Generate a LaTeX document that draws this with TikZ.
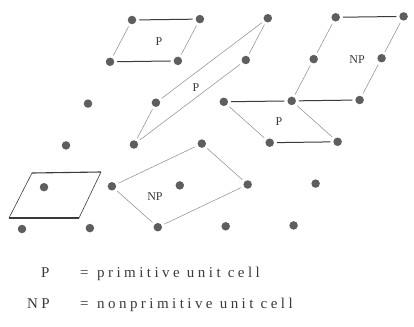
\documentclass[tikz,border=0pt]{standalone}
\usepackage{fontspec}
\setmainfont{Liberation Serif}
\newfontfamily\legendfont[LetterSpace=23]{Liberation Serif}
\definecolor{dotgray}{HTML}{5E5E5E}
\definecolor{linedark}{HTML}{3A3A3A}
\definecolor{linelight}{HTML}{8A8A8A}
\begin{document}
\begin{tikzpicture}[x=1pt,y=-1pt,
  dot/.style={circle,fill=dotgray,inner sep=0pt,minimum size=8.5pt,outer sep=3pt},
  hedge/.style={draw=linedark,line width=1pt},
  sedge/.style={draw=linelight,line width=0.5pt},
  boxedge/.style={draw=linedark,line width=1.1pt},
  boxside/.style={draw=linedark,line width=0.6pt},
  cell/.style={font=\fontsize{12}{14}\selectfont,text=linedark},
  legend/.style={anchor=base west,inner sep=0pt,font=\legendfont\fontsize{15}{18}\selectfont,text=linedark}]
\useasboundingbox (0,0) rectangle (414,326);
\foreach \i in {0,...,4}{
  \foreach \j in {0,...,5}{
    \node[dot] (d-\i-\j) at ({132+67.9*\i-22*\j},{20-0.9*\i+41.8*\j}) {};
  }
}
% top-left P
\draw[hedge] (d-0-0) -- (d-1-0);
\draw[hedge] (d-0-1) -- (d-1-1);
\draw[sedge] (d-0-0) -- (d-0-1);
\draw[sedge] (d-1-0) -- (d-1-1);
\node[cell] (p1) at (159,42) {P};
% long P
\draw[sedge] (d-2-0) -- (d-2-1);
\draw[sedge] (d-2-1) -- (d-1-3);
\draw[sedge] (d-1-3) -- (d-1-2);
\draw[sedge] (d-1-2) -- (d-2-0);
\node[cell] (p2) at (196,88) {P};
% top-right NP
\draw[hedge] (d-3-0) -- (d-4-0);
\draw[sedge] (d-4-0) -- (d-4-1);
\draw[sedge] (d-4-1) -- (d-4-2);
\draw[sedge] (d-3-0) -- (d-3-1);
\draw[sedge] (d-3-1) -- (d-3-2);
\draw[hedge] (d-3-2) -- (d-4-2);
\node[cell] (np1) at (357,60) {NP};
% middle P
\draw[hedge] (d-2-2) -- (d-3-2);
\draw[sedge] (d-2-2) -- (d-3-3);
\draw[sedge] (d-3-2) -- (d-4-3);
\draw[hedge] (d-3-3) -- (d-4-3);
\node[cell] (p3) at (279,122) {P};
% lower NP
\draw[sedge] (d-1-4) -- (d-2-3);
\draw[sedge] (d-2-3) -- (d-3-4);
\draw[sedge] (d-3-4) -- (d-2-5);
\draw[sedge] (d-2-5) -- (d-1-4);
\node[cell] (np2) at (155,197) {NP};
% bottom-left cell
\coordinate (c1) at (32,173);
\coordinate (c2) at (101,172);
\coordinate (c3) at (79,218);
\coordinate (c4) at (9,218);
\draw[boxedge] (c1) -- (c2);
\draw[boxedge] (c4) -- (c3);
\draw[boxside] (c2) -- (c3);
\draw[boxside] (c4) -- (c1);
% legend
\node[legend] (l1a) at (41,277) {P};
\node[legend] (l1b) at (80,277) {=};
\node[legend] (l1c) at (97,277) {primitive unit cell};
\node[legend] (l2a) at (27,308) {NP};
\node[legend] (l2b) at (80,308) {=};
\node[legend] (l2c) at (97,308) {nonprimitive unit cell};
\end{tikzpicture}
\end{document}
